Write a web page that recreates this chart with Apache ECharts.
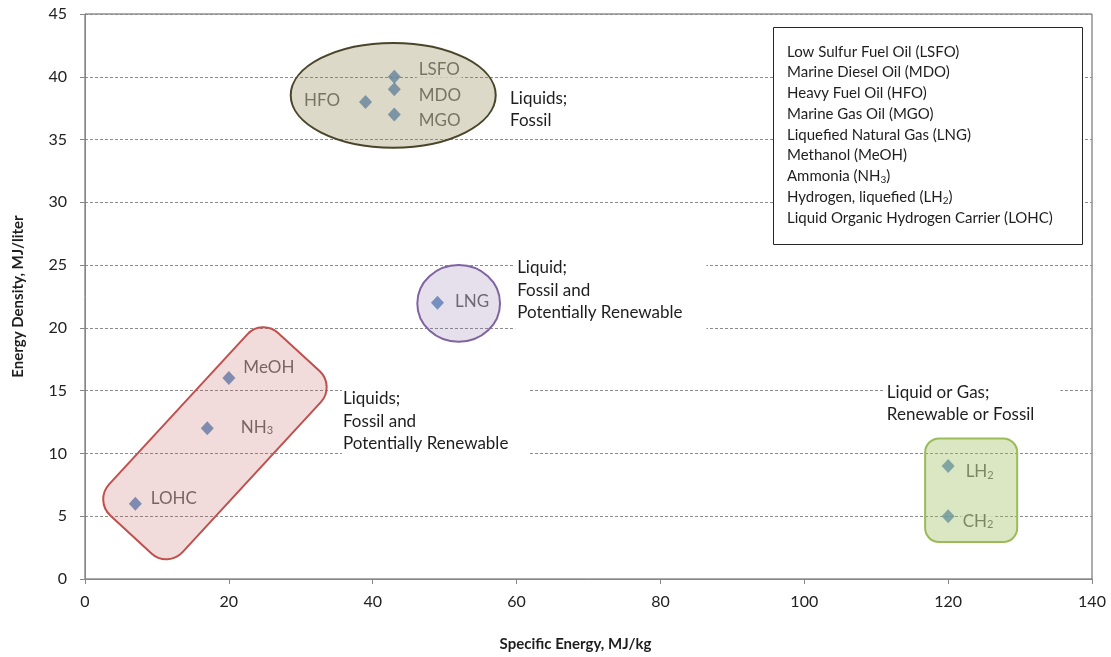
<!DOCTYPE html>
<html><head><meta charset="utf-8">
<script src="https://cdn.jsdelivr.net/npm/echarts@6/dist/echarts.min.js"></script>
<style>html,body{margin:0;padding:0;background:#fff}#c{width:1111px;height:657px}</style>
</head><body><div id="c"></div>
<script>
// ---- data ----
const fuelCodes      = ['LSFO','MDO','HFO','MGO','LNG','MeOH','NH3','LOHC','LH2','CH2'];
const specificEnergy = [43, 43, 39, 43, 49, 20, 17, 7, 120, 120];   // MJ/kg
const energyDensity  = [40, 39, 38, 37, 22, 16, 12, 6, 9, 5];       // MJ/liter
const pointLabelText = ['LSFO','MDO','HFO','MGO','LNG','MeOH','NH{s|3}','LOHC','LH{s|2}','CH{s|2}'];
const xTicks = [0, 20, 40, 60, 80, 100, 120, 140];
const yTicks = [0, 5, 10, 15, 20, 25, 30, 35, 40, 45];
const legendEntries = [
  'Low Sulfur Fuel Oil (LSFO)',
  'Marine Diesel Oil (MDO)',
  'Heavy Fuel Oil (HFO)',
  'Marine Gas Oil (MGO)',
  'Liquefied Natural Gas (LNG)',
  'Methanol (MeOH)',
  'Ammonia (NH{s|3})',
  'Hydrogen, liquefied (LH{s|2})',
  'Liquid Organic Hydrogen Carrier (LOHC)'
];
const noteTexts = [
  'Liquids;\nFossil',
  'Liquid;\nFossil and\nPotentially Renewable',
  'Liquids;\nFossil and\nPotentially Renewable',
  'Liquid or Gas;\nRenewable or Fossil'
];

// ---- layout / styling (annotation anchors in data units) ----
const FONT = 'Lato, "Open Sans", sans-serif';
const labelLayout = {
  LSFO:{position:'right', offset:[11,-7]},
  MDO:{position:'right', offset:[11,6]},
  MGO:{position:'right', offset:[11,6]},
  HFO:{position:'left', offset:[-12,-1]},
  LNG:{position:'right', offset:[4,-1]},
  MeOH:{position:'right', offset:[1,-11]},
  NH3:{position:'right', offset:[20,-1]},
  LOHC:{position:'right', offset:[2,-5]},
  LH2:{position:'right', offset:[4,6]},
  CH2:{position:'right', offset:[1,5]}
};
const noteAnchors = [[59.1, 39.2], [59.8, 25.85], [35.73, 15.42], [111.2, 15.94]];
const notePadding = [[0,2,0,0],[2,24,6,2],[2,20,4,1],[2,26,2,2]];

const ellipseShapes = [
  {bounds:[28.6, 57.1, 34.35, 42.7], fill:'rgba(148,138,84,0.32)', stroke:'#4a452a'},
  {bounds:[46.2, 57.7, 18.9, 25.0], fill:'rgba(128,100,162,0.2)', stroke:'#8064a2'}
];
const bandShape = {ends:[[6.38, 3.55],[29.75, 18.07]], thickness:100, r:22, fill:'rgba(192,80,77,0.2)', stroke:'#c0504d'};
const boxShape = {bounds:[116.8, 129.6, 2.94, 11.2], r:14, fill:'rgba(155,187,89,0.36)', stroke:'#9bbb59'};

const subRich = {s:{fontSize:11, fontFamily:FONT, color:'#454545', padding:[7,0,0,0]}};

const chart = echarts.init(document.getElementById('c'));

const scatterData = fuelCodes.map((code, i) => ({
  value:[specificEnergy[i], energyDensity[i]],
  name:code,
  label:{
    position:labelLayout[code].position,
    offset:labelLayout[code].offset,
    formatter:pointLabelText[i]
  }
}));

const shapeSeries = [];
ellipseShapes.forEach(sh => {
  shapeSeries.push({
    type:'custom', z:3, silent:true,
    data:[[sh.bounds[0], sh.bounds[2]]],
    renderItem:(params, api) => {
      const p0 = api.coord([sh.bounds[0], sh.bounds[3]]);
      const p1 = api.coord([sh.bounds[1], sh.bounds[2]]);
      return {type:'ellipse', shape:{cx:(p0[0]+p1[0])/2, cy:(p0[1]+p1[1])/2, rx:(p1[0]-p0[0])/2, ry:(p1[1]-p0[1])/2},
        style:{fill:sh.fill, stroke:sh.stroke, lineWidth:2}};
    }
  });
});
shapeSeries.push({
  type:'custom', z:3, silent:true,
  data:[bandShape.ends[0]],
  renderItem:(params, api) => {
    const a = api.coord(bandShape.ends[0]);
    const b = api.coord(bandShape.ends[1]);
    const dx = b[0]-a[0], dy = b[1]-a[1];
    const len = Math.sqrt(dx*dx+dy*dy);
    const ang = Math.atan2(-dy, dx);
    const t = bandShape.thickness;
    return {type:'rect', x:(a[0]+b[0])/2, y:(a[1]+b[1])/2, rotation:ang,
      shape:{x:-len/2, y:-t/2, width:len, height:t, r:bandShape.r},
      style:{fill:bandShape.fill, stroke:bandShape.stroke, lineWidth:2}};
  }
});
shapeSeries.push({
  type:'custom', z:3, silent:true,
  data:[[boxShape.bounds[0], boxShape.bounds[2]]],
  renderItem:(params, api) => {
    const p0 = api.coord([boxShape.bounds[0], boxShape.bounds[3]]);
    const p1 = api.coord([boxShape.bounds[1], boxShape.bounds[2]]);
    return {type:'rect', shape:{x:p0[0], y:p0[1], width:p1[0]-p0[0], height:p1[1]-p0[1], r:boxShape.r},
      style:{fill:boxShape.fill, stroke:boxShape.stroke, lineWidth:2}};
  }
});

const noteSeries = {
  type:'custom', z:4, silent:true,
  data:noteAnchors,
  renderItem:(params, api) => {
    const p = api.coord([api.value(0), api.value(1)]);
    return {type:'text', x:p[0], y:p[1],
      style:{text:noteTexts[params.dataIndex], fill:'#1e1e1e', fontSize:17, fontFamily:FONT,
        lineHeight:22.5, align:'left', verticalAlign:'top', backgroundColor:'#fff',
        padding:notePadding[params.dataIndex]}};
  }
};

chart.setOption({
  animation:false,
  backgroundColor:'#fff',
  grid:{left:85, right:19, top:14, bottom:77, show:true, borderColor:'#595959', borderWidth:1, backgroundColor:'#fff'},
  xAxis:{
    type:'value', min:xTicks[0], max:xTicks[xTicks.length-1], interval:20,
    name:'Specific Energy, MJ/kg', nameLocation:'middle', nameGap:58,
    nameTextStyle:{fontFamily:FONT, fontWeight:'bold', fontSize:15, color:'#1e1e1e', padding:[0,26,0,0]},
    axisLine:{lineStyle:{color:'#868686'}},
    axisTick:{show:true, length:5, lineStyle:{color:'#868686'}},
    axisLabel:{fontFamily:FONT, fontSize:16, color:'#222', margin:15},
    splitLine:{show:false}
  },
  yAxis:{
    type:'value', min:yTicks[0], max:yTicks[yTicks.length-1], interval:5,
    name:'Energy Density, MJ/liter', nameLocation:'middle', nameGap:59,
    nameTextStyle:{fontFamily:FONT, fontWeight:'bold', fontSize:15, color:'#1e1e1e'},
    axisLine:{show:true, lineStyle:{color:'#868686'}},
    axisTick:{show:true, length:5, lineStyle:{color:'#868686'}},
    axisLabel:{fontFamily:FONT, fontSize:16, color:'#222', margin:18},
    splitLine:{show:true, lineStyle:{color:'#8c8c8c', type:[3,2], width:1}}
  },
  series:[
    {
      type:'scatter', z:2, symbol:'diamond', symbolSize:[13,14],
      itemStyle:{color:'#4f81bd'},
      label:{show:true, fontFamily:FONT, fontSize:17, color:'#454545', backgroundColor:'#fff', padding:[0,2], rich:subRich},
      data:scatterData
    },
    ...shapeSeries,
    noteSeries
  ],
  graphic:[
    {type:'rect', z:10, shape:{x:773.5, y:27.5, width:309, height:217}, style:{fill:'#fff', stroke:'#262626', lineWidth:1}},
    {type:'text', z:11, x:787, y:41.5, style:{text:legendEntries.join('\n'), fill:'#1e1e1e', fontSize:15, fontFamily:FONT,
      lineHeight:20.75, align:'left', verticalAlign:'top',
      rich:{s:{fontSize:10, fontFamily:FONT, fill:'#1e1e1e', padding:[7,0,0,0]}}}}
  ]
});
</script></body></html>
